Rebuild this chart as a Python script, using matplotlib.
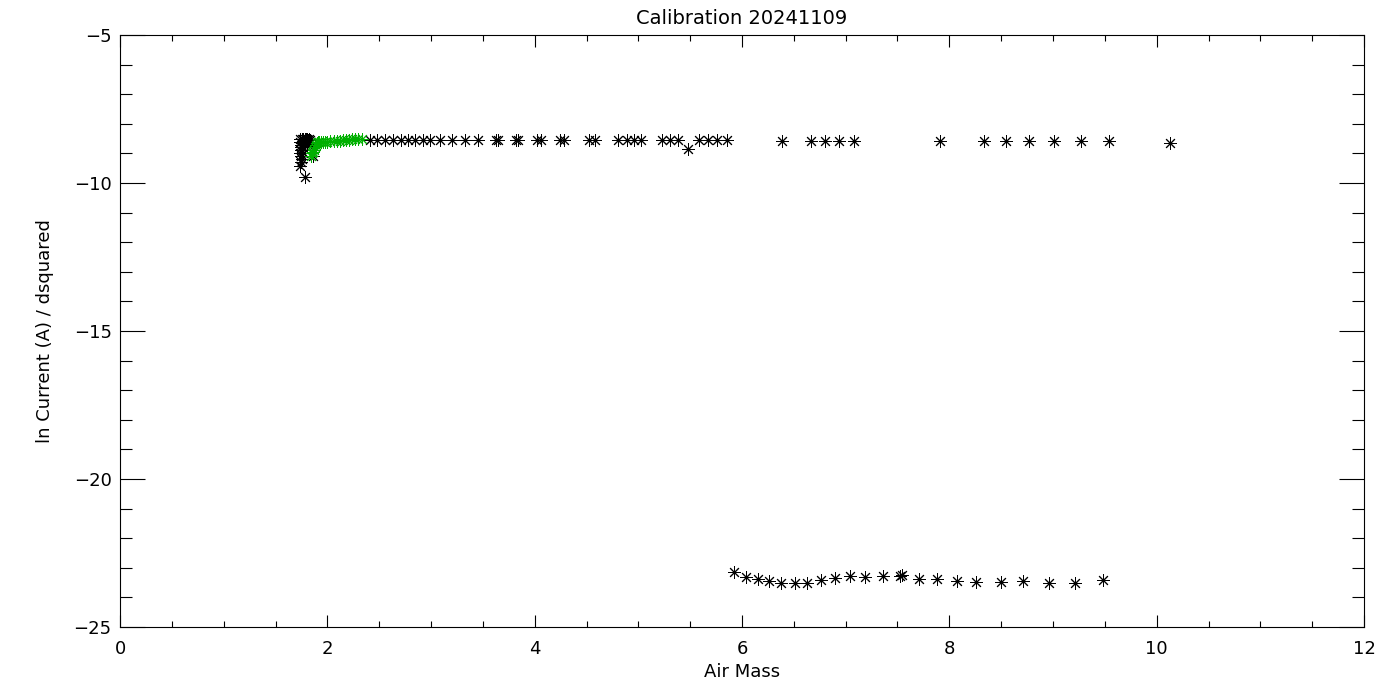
import matplotlib
matplotlib.use("Agg")
import matplotlib.pyplot as plt
from matplotlib.ticker import MultipleLocator

# black points: dense cluster near airmass 1.75
clu_x = [1.74, 1.74, 1.75, 1.75, 1.75, 1.74, 1.75, 1.76, 1.75, 1.74,
         1.76, 1.77, 1.78, 1.79, 1.80, 1.81, 1.82, 1.83, 1.76, 1.77,
         1.78, 1.86, 1.80, 1.84, 1.78]
clu_y = [-8.50, -8.60, -8.70, -8.80, -8.90, -9.00, -9.10, -9.20, -9.30, -9.42,
         -8.50, -8.50, -8.50, -8.52, -8.50, -8.55, -8.50, -8.55, -8.80, -9.00,
         -8.65, -9.10, -8.75, -8.60, -9.79]

# black points: upper branch
up_x = [2.41, 2.48, 2.56, 2.63, 2.71, 2.78, 2.85, 2.92, 2.99, 3.09, 3.20,
        3.33, 3.45, 3.63, 3.65, 3.82, 3.84, 4.02, 4.06, 4.24, 4.28, 4.52,
        4.58, 4.80, 4.89, 4.96, 5.03, 5.23, 5.31, 5.38, 5.48, 5.59, 5.67,
        5.76, 5.86, 6.39, 6.67, 6.80, 6.94, 7.08, 7.91, 8.33, 8.55, 8.77,
        9.01, 9.27, 9.54, 10.13]
up_y = [-8.55, -8.55, -8.55, -8.55, -8.55, -8.55, -8.55, -8.55, -8.55, -8.55, -8.55,
        -8.55, -8.55, -8.55, -8.54, -8.55, -8.54, -8.55, -8.56, -8.55, -8.56, -8.55,
        -8.56, -8.56, -8.56, -8.56, -8.56, -8.56, -8.56, -8.56, -8.86, -8.56, -8.56,
        -8.56, -8.56, -8.57, -8.57, -8.57, -8.57, -8.57, -8.59, -8.59, -8.59, -8.59,
        -8.59, -8.59, -8.59, -8.64]

# black points: lower branch
lo_x = [5.92, 6.04, 6.15, 6.26, 6.38, 6.51, 6.63, 6.76, 6.90, 7.04, 7.19,
        7.36, 7.52, 7.54, 7.71, 7.88, 8.07, 8.26, 8.50, 8.71, 8.96, 9.21, 9.48]
lo_y = [-23.15, -23.30, -23.38, -23.45, -23.52, -23.52, -23.52, -23.41, -23.36, -23.27, -23.30,
        -23.27, -23.27, -23.26, -23.38, -23.38, -23.45, -23.47, -23.47, -23.45, -23.52, -23.52, -23.41]

# green points
grn_x = [1.84, 1.85, 1.86, 1.87, 1.88, 1.89, 1.90, 1.91, 1.92, 1.94, 1.96, 1.98,
         2.00, 2.03, 2.06, 2.09, 2.12, 2.15, 2.18, 2.21, 2.24, 2.27, 2.30, 2.33]
grn_y = [-9.10, -9.00, -8.95, -8.90, -8.80, -8.70, -8.65, -8.62, -8.62, -8.62, -8.60, -8.60,
         -8.60, -8.59, -8.58, -8.58, -8.57, -8.56, -8.55, -8.54, -8.53, -8.52, -8.51, -8.50]

plt.rcParams['font.family'] = ['DejaVu Sans']
fig = plt.figure(figsize=(14, 7), dpi=100)
ax = fig.add_axes([120/1400, 1 - 627/700, 1244/1400, 592/700])

mk = dict(marker=(8, 2, 0), linestyle='none', markersize=9, markeredgewidth=0.7)
ax.plot(clu_x, clu_y, color='black', **mk)
ax.plot(up_x, up_y, color='black', **mk)
ax.plot(lo_x, lo_y, color='black', **mk)
ax.plot(grn_x, grn_y, color='#00b000', **mk)

ax.set_xlim(0, 12)
ax.set_ylim(-25, -5)
ax.xaxis.set_major_locator(MultipleLocator(2))
ax.xaxis.set_minor_locator(MultipleLocator(0.5))
ax.yaxis.set_major_locator(MultipleLocator(5))
ax.yaxis.set_minor_locator(MultipleLocator(1))

ax.tick_params(axis='both', which='both', direction='in', top=True, right=True,
               width=0.8, labelsize=13, colors='black')
ax.tick_params(axis='x', which='major', length=8.6, pad=9)
ax.tick_params(axis='x', which='minor', length=4.3)
ax.tick_params(axis='y', which='major', length=18, pad=6)
ax.tick_params(axis='y', which='minor', length=8.6)
for s in ax.spines.values():
    s.set_linewidth(0.8)

ax.set_title('Calibration 20241109', fontsize=14, pad=8)
ax.set_xlabel('Air Mass', fontsize=13, labelpad=4)
ax.set_ylabel('ln Current (A) / dsquared', fontsize=13, labelpad=14)

fig.savefig('out.png', dpi=100)
